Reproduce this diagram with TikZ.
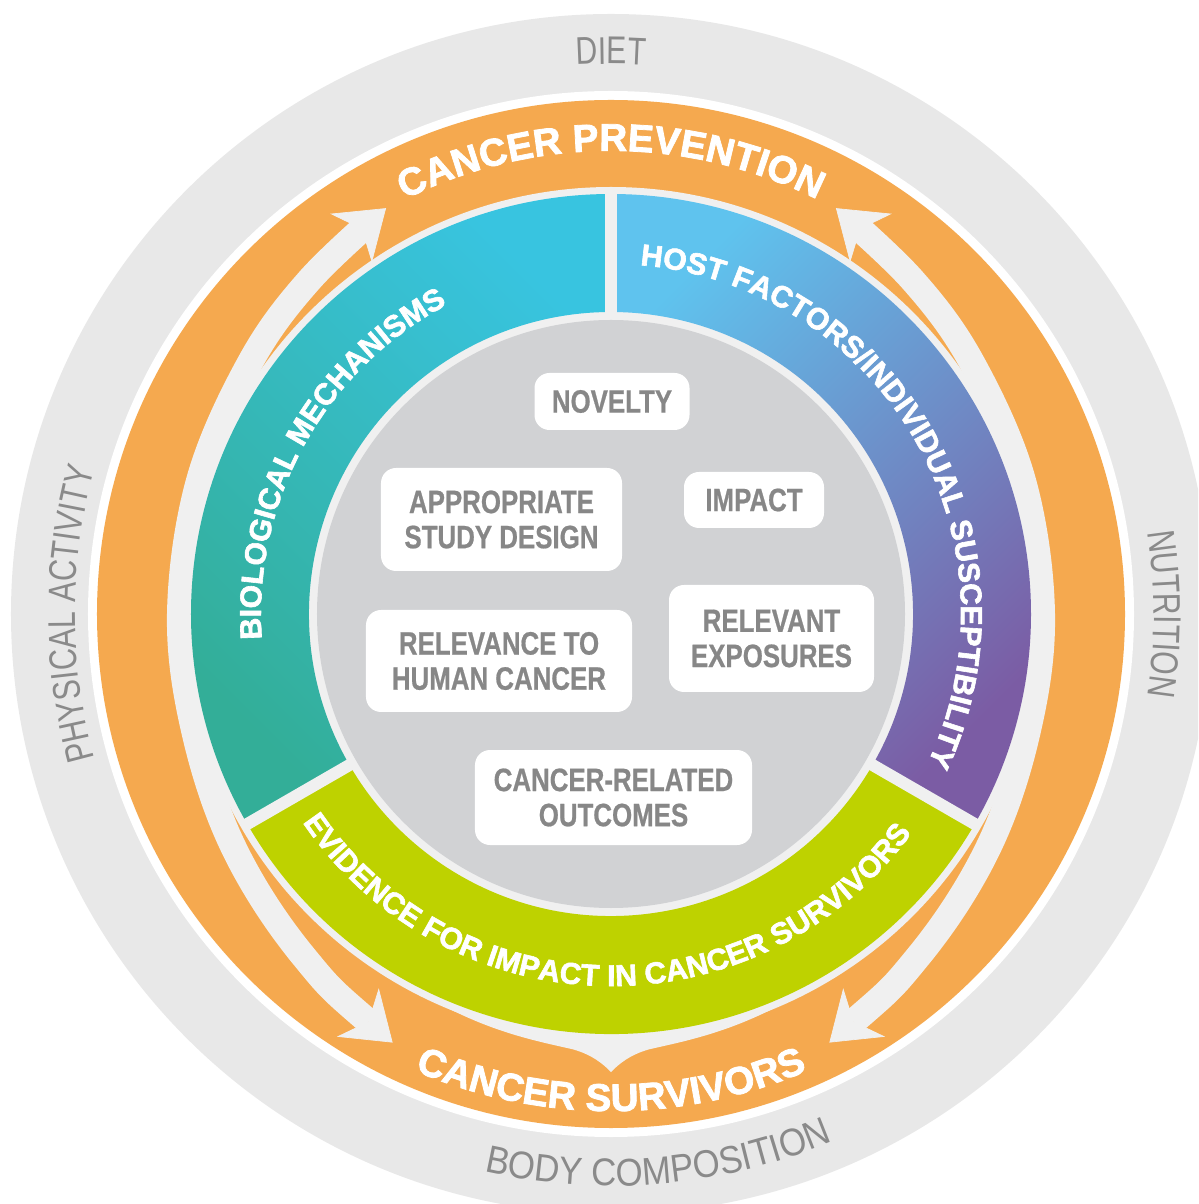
\documentclass[tikz,border=0pt]{standalone}
\usepackage{fontspec}
\usetikzlibrary{arrows.meta,decorations.text}

\newfontfamily\ringfont[FakeBold=2]{Liberation Sans}
\newfontfamily\labelfont[FakeStretch=0.8,FakeBold=0.6]{Liberation Sans}
\newfontfamily\thinfont[FakeStretch=0.78]{Liberation Sans}
\newfontfamily\widethinfont[FakeStretch=0.9]{Liberation Sans}

\definecolor{ringgrey}{HTML}{E8E8E8}
\definecolor{gapgrey}{HTML}{F0F0F0}
\definecolor{coregrey}{HTML}{D1D2D4}
\definecolor{bandorange}{HTML}{F5A94F}
\definecolor{labelgrey}{HTML}{878787}
\definecolor{factorgrey}{HTML}{8A8A8A}
\definecolor{tealtop}{HTML}{38C4E0}
\definecolor{tealbottom}{HTML}{33AE98}
\definecolor{bluetop}{HTML}{5FC3EE}
\definecolor{purplebottom}{HTML}{7B5CA4}
\definecolor{evidencegreen}{HTML}{BED200}

\tikzset{
  channel/.style={gapgrey, line width=0.26cm,
    arrows={Stealth[length=0.46cm,width=0.64cm,inset=0.14cm,line width=0.2pt]-Stealth[length=0.46cm,width=0.64cm,inset=0.14cm,line width=0.2pt]}},
  segmentgap/.style={gapgrey, line width=0.12cm},
  criterion/.style={fill=white, rounded corners=0.15cm, text=labelgrey, align=center,
    inner sep=0pt, font=\labelfont\bfseries\fontsize{9.2}{10}\selectfont},
  arclabel/.style={decorate, decoration={text along path, text align=center, text={#1}}},
}

\begin{document}
\begin{tikzpicture}
  \useasboundingbox (-6.11,-5.90) rectangle (5.87,6.14);
  \clip (-6.11,-5.90) rectangle (5.87,6.14);
  \fill[white] (-6.11,-5.90) rectangle (5.87,6.14);

  % outer ring of factors
  \fill[ringgrey] (0,0) circle[radius=6.0];
  \fill[white] (0,0) circle[radius=5.23];

  % orange bands with the two arrow channels
  \fill[bandorange] (0,0) circle[radius=5.14];
  \draw[channel] plot[smooth, tension=0.6] coordinates {(243:4.81) (228:4.60) (212:4.44)
    (196:4.33) (180:4.31) (162:4.33) (145:4.40) (132:4.50) (119:4.64)};
  \draw[channel] plot[smooth, tension=0.6] coordinates {(297:4.81) (312:4.60) (328:4.44)
    (344:4.33) (0:4.31) (18:4.33) (35:4.40) (48:4.50) (61:4.64)};
  \fill[gapgrey] (236:4.2) .. controls (250:4.40) and (259:4.33) .. (265:4.37)
    .. controls (267.5:4.41) and (269:4.50) .. (270:4.58)
    .. controls (271:4.50) and (272.5:4.41) .. (275:4.37)
    .. controls (281:4.33) and (290:4.40) .. (304:4.2) -- cycle;
  \fill[gapgrey] (0,0) circle[radius=4.27];

  % coloured segments
  \shade[top color=tealtop, bottom color=tealbottom, shading angle=-45]
    (90:4.2) arc[start angle=90, end angle=210, radius=4.2]
    -- (210:3.02) arc[start angle=210, end angle=90, radius=3.02] -- cycle;
  \shade[top color=bluetop, bottom color=purplebottom, shading angle=45]
    (90:4.2) arc[start angle=90, end angle=-30, radius=4.2]
    -- (-30:3.02) arc[start angle=-30, end angle=90, radius=3.02] -- cycle;
  \fill[evidencegreen]
    (210:4.2) arc[start angle=210, end angle=330, radius=4.2]
    -- (330:3.02) arc[start angle=330, end angle=210, radius=3.02] -- cycle;
  \foreach \a in {90,210,330}
    \draw[segmentgap] (\a:2.9) -- (\a:4.25);
  \fill[coregrey] (0,0) circle[radius=2.94];

  % texts on the arcs
  \path[arclabel={|\ringfont\bfseries\fontsize{11}{13}\selectfont\color{white}|CANCER PREVENTION}]
    (160:4.63) arc[start angle=160, end angle=20, radius=4.63];
  \path[arclabel={|\ringfont\bfseries\fontsize{11}{13}\selectfont\color{white}|CANCER SURVIVORS}]
    (210:4.97) arc[start angle=210, end angle=330, radius=4.97];
  \path[arclabel={|\ringfont\bfseries\fontsize{8.6}{10}\selectfont\color{white}|BIOLOGICAL MECHANISMS}]
    (211:3.5) arc[start angle=211, end angle=91, radius=3.5];
  \path[arclabel={|\ringfont\bfseries\fontsize{8.6}{10}\selectfont\color{white}|HOST FACTORS/INDIVIDUAL SUSCEPTIBILITY}]
    (90:3.5) arc[start angle=90, end angle=-30, radius=3.5];
  \path[arclabel={|\ringfont\bfseries\fontsize{8.6}{10}\selectfont\color{white}|EVIDENCE FOR IMPACT IN CANCER SURVIVORS}]
    (199:3.72) arc[start angle=199, end angle=339, radius=3.72];

  \path[arclabel={|\thinfont\fontsize{11}{13}\selectfont\color{factorgrey}|DIET}]
    (130:5.5) arc[start angle=130, end angle=50, radius=5.5];
  \path[arclabel={|\thinfont\fontsize{11}{13}\selectfont\color{factorgrey}|PHYSICAL ACTIVITY}]
    (220:5.36) arc[start angle=220, end angle=140, radius=5.36];
  \path[arclabel={|\thinfont\fontsize{11}{13}\selectfont\color{factorgrey}|NUTRITION}]
    (40:5.43) arc[start angle=40, end angle=-40, radius=5.43];
  \path[arclabel={|\widethinfont\fontsize{11}{13}\selectfont\color{factorgrey}|BODY COMPOSITION}]
    (235:5.72) arc[start angle=235, end angle=315, radius=5.72];

  % criteria
  \node[criterion, minimum width=1.55cm, minimum height=0.57cm] (novelty) at (0.01,2.125) {NOVELTY};
  \node[criterion, minimum width=2.41cm, minimum height=1.03cm] (design) at (-1.095,0.945) {APPROPRIATE\\STUDY DESIGN};
  \node[criterion, minimum width=1.40cm, minimum height=0.56cm] (impact) at (1.43,1.14) {IMPACT};
  \node[criterion, minimum width=2.66cm, minimum height=1.02cm] (relevance) at (-1.12,-0.47) {RELEVANCE TO\\HUMAN CANCER};
  \node[criterion, minimum width=2.05cm, minimum height=1.07cm] (exposures) at (1.605,-0.245) {RELEVANT\\EXPOSURES};
  \node[criterion, minimum width=2.77cm, minimum height=0.95cm] (outcomes) at (0.025,-1.835) {CANCER-RELATED\\OUTCOMES};
\end{tikzpicture}
\end{document}
